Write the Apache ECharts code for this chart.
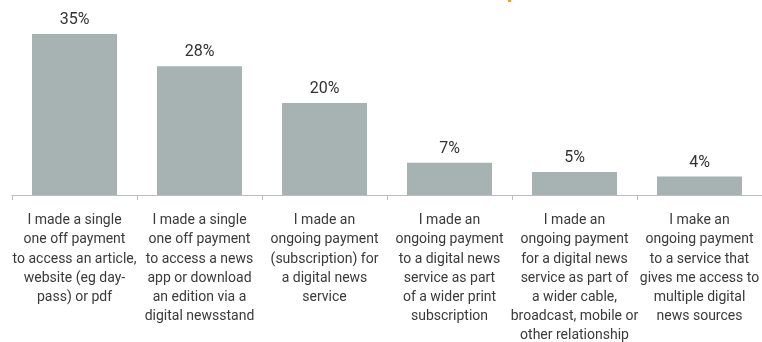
<!DOCTYPE html>
<html>
<head>
<meta charset="utf-8">
<script src="https://cdn.jsdelivr.net/npm/echarts@6/dist/echarts.min.js"></script>
<style>html,body{margin:0;padding:0;background:#fff;}#c{width:762px;height:342px;}</style>
</head>
<body>
<div id="c"></div>
<script>
const categories = [
  "I made a single\none off payment\nto access an article,\nwebsite (eg day-\npass) or pdf",
  "I made a single\none off payment\nto access a news\napp or download\nan edition via a\ndigital newsstand",
  "I made an\nongoing payment\n(subscription) for\na digital news\nservice",
  "I made an\nongoing payment\nto a digital news\nservice as part\nof a wider print\nsubscription",
  "I made an\nongoing payment\nfor a digital news\nservice as part of\na wider cable,\nbroadcast, mobile or\nother relationship",
  "I make an\nongoing payment\nto a service that\ngives me access to\nmultiple digital\nnews sources"
];
const values = [35, 28, 20, 7, 5, 4];

const chart = echarts.init(document.getElementById('c'), null, {renderer: 'canvas'});
chart.setOption({
  animation: false,
  backgroundColor: '#ffffff',
  graphic: [{type: 'rect', shape: {x: 508, y: 0, width: 3, height: 2}, style: {fill: '#f39c2c'}}],
  grid: {left: 12, right: 0, top: 11, bottom: 147, containLabel: false, outerBoundsMode: 'none'},
  xAxis: {
    type: 'category',
    data: categories,
    axisLine: {lineStyle: {color: '#bdbdbd', width: 1}},
    axisTick: {show: true, length: 5, lineStyle: {color: '#bdbdbd'}},
    axisLabel: {
      interval: 0,
      margin: 16,
      color: '#3a3a3a',
      fontFamily: 'Roboto',
      fontSize: 14,
      lineHeight: 19.2,
      align: 'center'
    }
  },
  yAxis: {
    type: 'value', min: 0, max: 40, show: false,
    splitLine: {show: false}
  },
  series: [{
    type: 'bar',
    data: values,
    barWidth: '68%',
    itemStyle: {color: '#a7b3b3'},
    label: {
      show: true,
      position: 'top',
      distance: 6,
      formatter: '{c}%',
      color: '#333333',
      fontFamily: 'Roboto',
      fontSize: 16
    }
  }]
});
</script>
</body>
</html>
